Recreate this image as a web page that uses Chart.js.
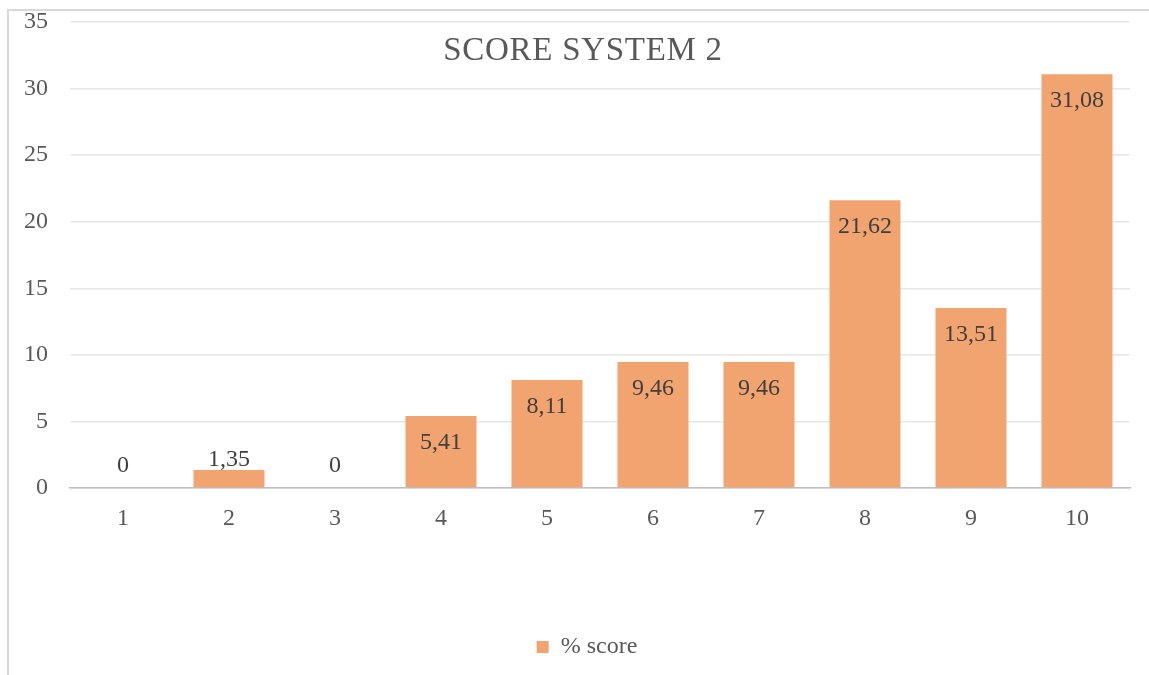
<!DOCTYPE html>
<html>
<head>
<meta charset="utf-8">
<script src="https://cdn.jsdelivr.net/npm/chart.js@4.4.0/dist/chart.umd.min.js"></script>
<style>
  body { margin: 0; background: #fff; }
  #frame {
    position: absolute; left: 7px; top: 9px; width: 1142px; height: 666px;
    border-left: 2px solid #d9d9d9; border-top: 2px solid #d9d9d9;
  }
  #wrap { position: absolute; left: 0; top: 0; width: 1149px; height: 675px; }
</style>
</head>
<body>
<div id="frame"></div>
<div id="wrap"><canvas id="chart" width="1149" height="675"></canvas></div>
<script>
// Chart data
const categories = ['1', '2', '3', '4', '5', '6', '7', '8', '9', '10'];
const scoreValues = [0, 1.35, 0, 5.41, 8.11, 9.46, 9.46, 21.62, 13.51, 31.08];
const seriesLabel = '% score';
const chartTitle = 'SCORE SYSTEM 2';

const textColor = '#595959';
const barColor = '#F1A46F';
const fontFamily = '"Liberation Serif", "Times New Roman", serif';

// Title drawn over the plot area, like Excel does
const titlePlugin = {
    id: 'overTitle',
    afterDraw(chart) {
        const c = chart.ctx;
        c.save();
        c.font = '33px ' + fontFamily;
        c.letterSpacing = '0.7px';
        c.fillStyle = textColor;
        c.textAlign = 'center';
        c.textBaseline = 'alphabetic';
        c.fillText(chartTitle, 583, 60);
        c.restore();
    }
};

// Value labels with a decimal comma
const valueLabels = {
    id: 'valueLabels',
    afterDatasetsDraw(chart) {
        const c = chart.ctx;
        const meta = chart.getDatasetMeta(0);
        c.save();
        c.font = '24px ' + fontFamily;
        c.fillStyle = '#404040';
        c.textAlign = 'center';
        c.textBaseline = 'middle';
        meta.data.forEach((bar, i) => {
            const v = scoreValues[i];
            const txt = v === 0 ? '0' : v.toFixed(2).replace('.', ',');
            const h = bar.base - bar.y;
            let y;
            if (v === 0) y = bar.y - 22;
            else if (h < 40) y = bar.y - 10;
            else y = bar.y + 27;
            c.fillText(txt, bar.x, y);
        });
        c.restore();
    }
};

// Centre the legend on the page rather than on the padded box
const legendShift = {
    id: 'legendShift',
    afterLayout(chart) {
        if (chart.legend) chart.legend.left += 44;
    }
};

new Chart(document.getElementById('chart'), {
    type: 'bar',
    data: {
        labels: categories,
        datasets: [{
            label: seriesLabel,
            data: scoreValues,
            backgroundColor: barColor,
            borderWidth: 0,
            barPercentage: 0.67,
            categoryPercentage: 1
        }]
    },
    options: {
        responsive: false,
        animation: false,
        layout: { padding: { left: 0, right: 19, top: 22, bottom: 6 } },
        plugins: {
            legend: {
                position: 'bottom',
                labels: {
                    color: textColor,
                    font: { family: fontFamily, size: 24 },
                    boxWidth: 12,
                    boxHeight: 12,
                    padding: 10
                }
            },
            tooltip: { enabled: false }
        },
        scales: {
            y: {
                min: 0,
                max: 35,
                ticks: {
                    stepSize: 5,
                    color: textColor,
                    padding: 22,
                    font: { family: fontFamily, size: 24 }
                },
                grid: { color: '#e6e6e6', lineWidth: 1.5, drawTicks: false },
                border: { display: false },
                afterFit(scale) {
                    scale.width = 70;
                    // don't reserve extra room above/below for tick labels
                    scale.paddingTop = 0;
                    scale.paddingBottom = 0;
                }
            },
            x: {
                ticks: {
                    color: textColor,
                    padding: 16,
                    font: { family: fontFamily, size: 24 }
                },
                grid: { display: false, drawTicks: false },
                border: { color: '#bfbfbf', width: 1.5 },
                afterFit(scale) { scale.height = 137; }
            }
        }
    },
    plugins: [titlePlugin, valueLabels, legendShift]
});
</script>
</body>
</html>
